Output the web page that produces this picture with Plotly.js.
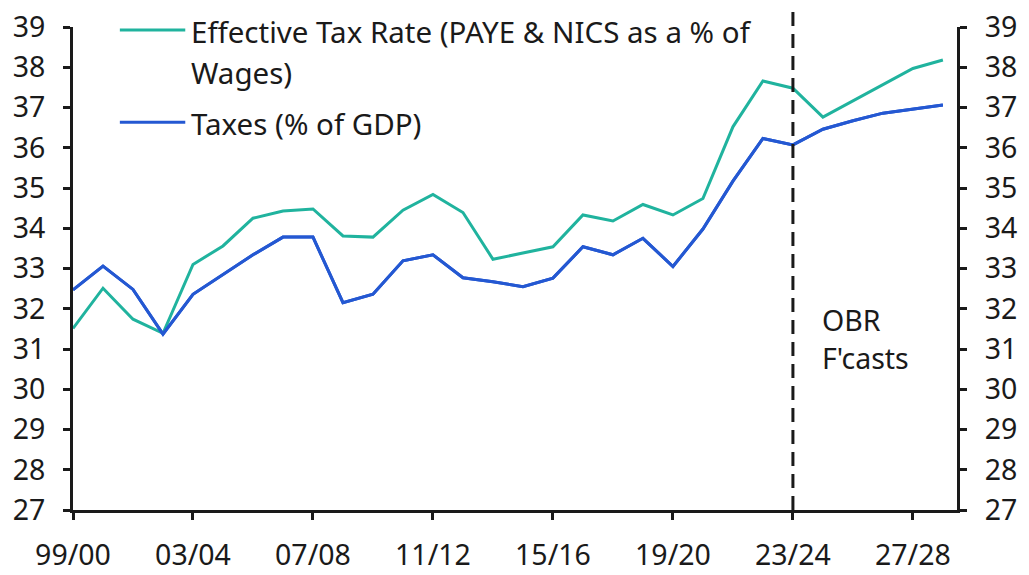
<!DOCTYPE html>
<html>
<head>
<meta charset="utf-8">
<script src="https://cdn.plot.ly/plotly-3.0.1.min.js"></script>
<style>
  html, body { margin: 0; padding: 0; background: #fff; }
  #chart { width: 1029px; height: 575px; }
</style>
</head>
<body>
<div id="chart"></div>
<script>
// Fiscal years, 99/00 to 28/29
const years = [
    '99/00', '00/01', '01/02', '02/03', '03/04', '04/05', '05/06', '06/07', '07/08', '08/09',
    '09/10', '10/11', '11/12', '12/13', '13/14', '14/15', '15/16', '16/17', '17/18', '18/19',
    '19/20', '20/21', '21/22', '22/23', '23/24', '24/25', '25/26', '26/27', '27/28', '28/29'
];

// Effective Tax Rate (PAYE & NICS as a % of Wages)
const effectiveRate = [
    31.51, 32.51, 31.74, 31.39, 33.10, 33.56, 34.25, 34.43, 34.48, 33.81,
    33.78, 34.45, 34.84, 34.39, 33.23, 33.39, 33.54, 34.33, 34.18, 34.59,
    34.33, 34.74, 36.52, 37.66, 37.48, 36.76, 37.16, 37.57, 37.97, 38.18
];

// Taxes (% of GDP)
const taxesGdp = [
    32.47, 33.06, 32.48, 31.37, 32.36, 32.84, 33.34, 33.78, 33.78, 32.15,
    32.36, 33.19, 33.34, 32.77, 32.67, 32.55, 32.76, 33.54, 33.34, 33.75,
    33.05, 33.98, 35.17, 36.23, 36.07, 36.46, 36.67, 36.86, 36.96, 37.06
];

const tickYears = ['99/00', '03/04', '07/08', '11/12', '15/16', '19/20', '23/24', '27/28'];
const forecastStart = '23/24';

const teal = '#20b39e';
const blue = '#2458d2';
const ink = '#1a1a1a';
const fontFamily = '"Noto Sans", "Open Sans", sans-serif';
const tickSize = 28.5;
const textSize = 29.5;

const effName1 = 'Effective Tax Rate (PAYE & NICS as a % of';
const effName2 = 'Wages)';
const taxName = 'Taxes (% of GDP)';

const traces = [
    {
        x: years,
        y: effectiveRate,
        type: 'scatter',
        mode: 'lines',
        name: effName1 + ' ' + effName2,
        line: { color: teal, width: 3 },
        showlegend: false
    },
    {
        x: years,
        y: taxesGdp,
        type: 'scatter',
        mode: 'lines',
        name: taxName,
        line: { color: blue, width: 3 },
        showlegend: false
    },
    // same series on the right axis so it gets drawn with labels
    {
        x: years,
        y: taxesGdp,
        type: 'scatter',
        mode: 'lines',
        yaxis: 'y2',
        line: { color: blue, width: 3 },
        hoverinfo: 'skip',
        showlegend: false
    }
];

const yAxisBase = {
    range: [27, 39],
    dtick: 1,
    showgrid: false,
    zeroline: false,
    showline: true,
    linecolor: ink,
    linewidth: 3,
    ticks: 'outside',
    ticklen: 7,
    tickwidth: 3,
    tickcolor: ink,
    ticklabelstandoff: 12,
    tickfont: { family: fontFamily, size: tickSize, color: ink }
};

// custom legend: long line swatch + text, in paper coords
const legendLine = (y, color) => ({
    type: 'line', xref: 'paper', yref: 'paper',
    x0: 0.053, x1: 0.127, y0: y, y1: y,
    line: { color: color, width: 3 }
});

const textNote = (x, y, text, size) => ({
    xref: 'paper', yref: 'paper', x: x, y: y,
    xanchor: 'left', yanchor: 'middle',
    text: text, showarrow: false,
    font: { family: fontFamily, size: size, color: ink }
});

const layout = {
    width: 1029,
    height: 575,
    margin: { l: 73, r: 72, t: 27, b: 65 },
    paper_bgcolor: '#fff',
    plot_bgcolor: '#fff',
    showlegend: false,
    xaxis: {
        type: 'category',
        range: [0, 29.47],
        tickmode: 'array',
        tickvals: tickYears,
        ticktext: tickYears,
        showgrid: false,
        zeroline: false,
        showline: true,
        linecolor: ink,
        linewidth: 3,
        ticks: 'outside',
        ticklen: 7,
        tickwidth: 3,
        tickcolor: ink,
        ticklabelstandoff: 11,
        tickfont: { family: fontFamily, size: tickSize, color: ink }
    },
    yaxis: Object.assign({}, yAxisBase, { side: 'left' }),
    yaxis2: Object.assign({}, yAxisBase, { side: 'right', overlaying: 'y' }),
    shapes: [
        {
            type: 'line', xref: 'x', yref: 'paper',
            x0: forecastStart, x1: forecastStart, y0: 0, y1: 1.045,
            line: { color: ink, width: 3, dash: '14px,8px' }
        },
        legendLine(0.994, teal),
        legendLine(0.803, blue)
    ],
    annotations: [
        textNote(0.131, 0.99, effName1, textSize),
        textNote(0.131, 0.905, effName2, textSize),
        textNote(0.131, 0.8, taxName, textSize),
        textNote(0.845, 0.393, 'OBR', tickSize),
        textNote(0.845, 0.315, "F'casts", tickSize)
    ]
};

Plotly.newPlot('chart', traces, layout, { displayModeBar: false, staticPlot: true });
</script>
</body>
</html>
